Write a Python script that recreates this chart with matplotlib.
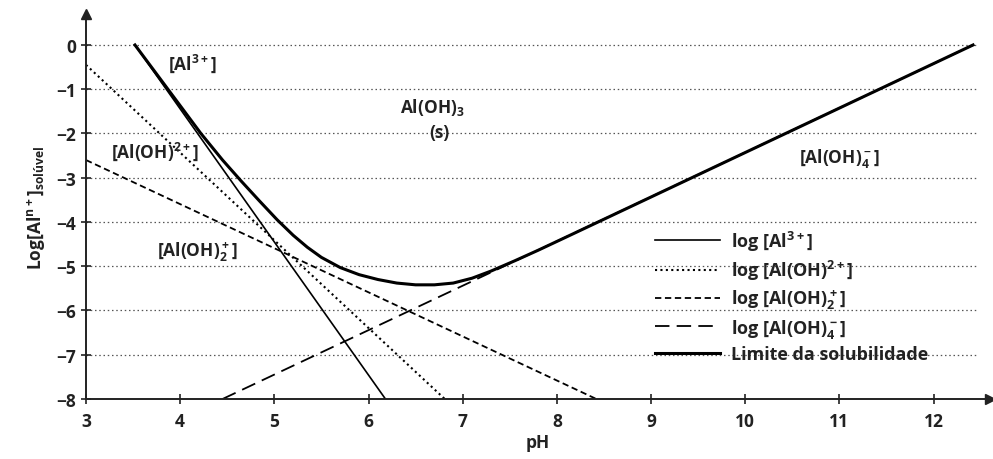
import matplotlib
matplotlib.use("Agg")
import matplotlib.pyplot as plt

plt.rcParams["font.family"] = ["Open Sans", "DejaVu Sans"]
plt.rcParams["font.weight"] = "bold"
plt.rcParams["axes.labelweight"] = "bold"
plt.rcParams["mathtext.fontset"] = "custom"
plt.rcParams["mathtext.bf"] = "Open Sans:bold"
plt.rcParams["mathtext.rm"] = "Open Sans:bold"
plt.rcParams["mathtext.default"] = "bf"

# species lines (pH, log concentration)
ph_al = [3.52, 6.18]
log_al = [0.0, -8.0]

ph_aloh = [3.0, 6.81]
log_aloh = [-0.45, -8.0]

ph_aloh2 = [3.0, 8.42]
log_aloh2 = [-2.6, -8.0]

ph_aloh4 = [4.45, 12.42]
log_aloh4 = [-8.0, 0.0]

# solubility limit curve
ph_lim = [3.52, 3.87, 4.22, 4.45, 4.65, 4.84, 5.03, 5.2, 5.35, 5.5, 5.7, 5.9,
          6.1, 6.3, 6.5, 6.7, 6.9, 7.1, 7.3, 7.55, 7.8, 8.1, 12.42]
log_lim = [0.0, -1.0, -2.0, -2.6, -3.08, -3.52, -3.95, -4.3, -4.57, -4.8, -5.03, -5.19,
           -5.3, -5.38, -5.42, -5.42, -5.38, -5.27, -5.11, -4.88, -4.64, -4.34, 0.0]

grid_levels = [0, -1, -2, -3, -4, -5, -6, -7]
x_ticks = [3, 4, 5, 6, 7, 8, 9, 10, 11, 12]
y_ticks = [0, -1, -2, -3, -4, -5, -6, -7, -8]

fig = plt.figure(figsize=(9.93, 4.6), dpi=100)
ax = fig.add_axes([86 / 993, 60 / 460, 904 / 993, 385 / 460])

for g in grid_levels:
    ax.plot([3, 12.45], [g, g], color="#555555", lw=0.9, ls=(0, (1.2, 2.2)), zorder=1)

ax.plot(ph_al, log_al, color="black", lw=1.2, label=r"log [Al$^{3+}$]")
ax.plot(ph_aloh, log_aloh, color="black", lw=1.5, ls=(0, (1, 1.6)), label=r"log [Al(OH)$^{2+}$]")
ax.plot(ph_aloh2, log_aloh2, color="black", lw=1.3, ls=(0, (3.5, 2)), label=r"log [Al(OH)$_2^+$]")
ax.plot(ph_aloh4, log_aloh4, color="black", lw=1.3, ls=(0, (8, 4)), label=r"log [Al(OH)$_4^-$]")
ax.plot(ph_lim, log_lim, color="black", lw=2.2, label="Limite da solubilidade")

ax.set_xlim(3, 12.6)
ax.set_ylim(-8, 0.7)
ax.set_xticks(x_ticks)
ax.set_yticks(y_ticks)
ax.set_yticklabels([str(v).replace("-", "\u2212") for v in y_ticks])
ax.tick_params(direction="inout", length=7, width=1.2, labelsize=12.5, colors="#222222")
ax.tick_params(axis="x", pad=6)
for s in ["top", "right"]:
    ax.spines[s].set_visible(False)
for s in ["left", "bottom"]:
    ax.spines[s].set_linewidth(1.4)
    ax.spines[s].set_color("#222222")
ax.plot(1, -8, ">", color="#222222", ms=7, transform=ax.get_yaxis_transform(), clip_on=False)
ax.plot(3, 1, "^", color="#222222", ms=7, transform=ax.get_xaxis_transform(), clip_on=False)

ax.set_xlabel("pH", fontsize=12.5, color="#222222", labelpad=2)
ax.set_ylabel(r"Log[Al$^{n+}$]$_{sol\'uvel}$", fontsize=12.5, color="#222222", labelpad=6)

txt = dict(fontsize=12.5, color="#222222", ha="center", va="center")
ax.text(4.13, -0.4, r"[Al$^{3+}$]", **txt)
ax.text(6.68, -1.4, r"Al(OH)$_3$", **txt)
ax.text(6.75, -1.97, "(s)", **txt)
ax.text(3.73, -2.4, r"[Al(OH)$^{2+}$]", **txt)
ax.text(11.0, -2.55, r"[Al(OH)$_4^-$]", **txt)
ax.text(4.18, -4.66, r"[Al(OH)$_2^+$]", **txt)

ax.legend(frameon=False, loc="upper left", bbox_to_anchor=(0.612, 0.485), fontsize=13,
          handlelength=3.6, labelspacing=0.3, handletextpad=0.6, labelcolor="#222222")

fig.savefig("out.png", dpi=100)
